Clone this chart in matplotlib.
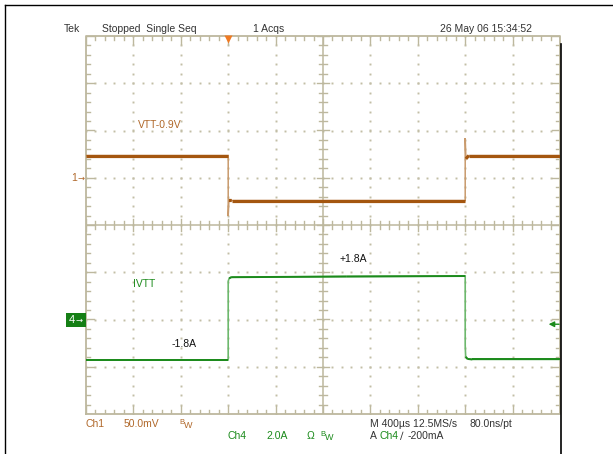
import matplotlib
matplotlib.use("Agg")
import matplotlib.pyplot as plt
import matplotlib.transforms as mtransforms
import numpy as np

# ---------------- data ----------------
# Ch1: VTT-0.9V, mV relative to channel ground marker
time_ms_ch1 = [-1.2, 0.0, 0.0, 0.006, 0.03, 2.0, 2.0, 2.006, 2.03, 2.8]
ch1_mV = [23.5, 23.5, -40.5, -24.0, -24.1, -24.1, 42.0, 20.0, 23.5, 23.5]

# Ch4: IVTT current, A
time_ms_ch4 = [-1.2, 0.0, 0.0, 0.008, 0.025, 1.0, 2.0, 2.0, 2.004, 2.02, 2.06, 2.8]
ch4_A = [-1.71, -1.71, 1.62, 1.74, 1.79, 1.82, 1.84, -1.10, -1.58, -1.67, -1.69, -1.69]

ch1_scale_mV = 50.0     # per division
ch4_scale_A = 2.0       # per division
ch1_offset_div = 1.0
ch4_offset_div = -2.0
time_per_div_ms = 0.4
trigger_pos_div = -2.0  # trigger point relative to screen centre
trigger_level_A = -0.2

header_texts = ["Tek", "Stopped  Single Seq", "1 Acqs", "26 May 06 15:34:52"]

# ---------------- figure ----------------
W, H = 613, 454
fig = plt.figure(figsize=(W / 100, H / 100), dpi=100)
fig.patch.set_facecolor("white")

FONT = ["Liberation Sans Narrow", "Liberation Sans", "DejaVu Sans"]
BROWN = "#A4560F"
BROWN_T = "#B0682A"
BROWN_L = "#C99A6C"
GREEN = "#1B8A1B"
GREEN_L = "#6DB86D"
GRAT = "#BDB89E"
DOT = "#C2BEA6"
TXT = "#333333"

def fx(px):
    return px / W

def fy(py):
    return 1 - py / H

gl, gr, gt, gb = 86, 560, 36, 414
rect = [fx(gl), fy(gb), (gr - gl) / W, (gb - gt) / H]

# graticule axes in division units
ax = fig.add_axes(rect)
ax.set_xlim(-5, 5)
ax.set_ylim(-4, 4)
ax.axis("off")
pxx = (gr - gl) / 10.0
pxy = (gb - gt) / 8.0
minor = np.arange(-5, 5.001, 0.2)
minor_y = np.arange(-4, 4.001, 0.2)

# dotted major grid
for xv in range(-4, 5):
    if xv == 0:
        continue
    ax.plot([xv] * len(minor_y), minor_y, ls="none", marker="s", ms=1.4, mec="none", mfc=DOT)
for yv in range(-3, 4):
    if yv == 0:
        continue
    ax.plot(minor, [yv] * len(minor), ls="none", marker="s", ms=1.4, mec="none", mfc=DOT)

# border
ax.plot([-5, 5, 5, -5, -5], [-4, -4, 4, 4, -4], color=GRAT, lw=1.3, clip_on=False)
# centre crosshair
ax.plot([0, 0], [-4, 4], color=GRAT, lw=1.1)
ax.plot([-5, 5], [0, 0], color=GRAT, lw=1.1)

tmin_x = 4 / pxx
tmaj_x = 8 / pxx
tmin_y = 4 / pxy
tmaj_y = 8 / pxy
for xv in minor:
    is_major = abs(xv - round(xv)) < 1e-6
    ly = (tmaj_y if is_major else tmin_y)
    ax.plot([xv, xv], [4, 4 - ly], color=GRAT, lw=1)
    ax.plot([xv, xv], [-4, -4 + ly], color=GRAT, lw=1)
    c = (ly - tmin_y / 2) if is_major else tmin_y
    ax.plot([xv, xv], [-c, c], color=GRAT, lw=1)
for yv in minor_y:
    is_major = abs(yv - round(yv)) < 1e-6
    lx = (tmaj_x if is_major else tmin_x)
    ax.plot([-5, -5 + lx], [yv, yv], color=GRAT, lw=1)
    ax.plot([5, 5 - lx], [yv, yv], color=GRAT, lw=1)
    c = (lx - tmin_x / 2) if is_major else tmin_x
    ax.plot([-c, c], [yv, yv], color=GRAT, lw=1)

# channel axes
t_left = (-5 - trigger_pos_div) * time_per_div_ms
t_right = (5 - trigger_pos_div) * time_per_div_ms


def draw_trace(axis, t, v, col, col_light, lw_flat, lw_edge):
    t = np.asarray(t, float)
    v = np.asarray(v, float)
    # thin, lighter edges (fast transitions)
    axis.plot(t, v, color=col_light, lw=lw_edge, solid_joinstyle="miter")
    # thick flat levels
    for i in range(len(t) - 1):
        if t[i + 1] - t[i] > 0.012:
            axis.plot(t[i:i + 2], v[i:i + 2], color=col, lw=lw_flat, solid_capstyle="butt")


ax1 = fig.add_axes(rect, facecolor="none")
ax1.set_xlim(t_left, t_right)
ax1.set_ylim((-4 - ch1_offset_div) * ch1_scale_mV, (4 - ch1_offset_div) * ch1_scale_mV)
ax1.axis("off")
draw_trace(ax1, time_ms_ch1, ch1_mV, BROWN, BROWN_L, 2.3, 1.1)

ax4 = fig.add_axes(rect, facecolor="none")
ax4.set_xlim(t_left, t_right)
ax4.set_ylim((-4 - ch4_offset_div) * ch4_scale_A, (4 - ch4_offset_div) * ch4_scale_A)
ax4.axis("off")
draw_trace(ax4, time_ms_ch4, ch4_A, GREEN, GREEN_L, 1.4, 1.2)

# trigger position marker (top)
trans = mtransforms.blended_transform_factory(ax4.transData, ax4.transAxes)
ax4.plot([0.0], [1 - 3 / (gb - gt)], marker="v", ms=6, color="#F07A22", mec="none",
         transform=trans, clip_on=False)

# trigger level arrow (right)
ax4.annotate("", xy=(0.976, trigger_level_A), xycoords=("axes fraction", "data"),
             xytext=(0.998, trigger_level_A), textcoords=("axes fraction", "data"),
             arrowprops=dict(arrowstyle="-|>", color=GREEN, lw=1.0, mutation_scale=8,
                             shrinkA=0, shrinkB=0),
             annotation_clip=False)

# channel ground markers
fig.text(fx(71), fy(178), "1", color=BROWN_T, fontsize=7.5, family=FONT, ha="left", va="center")
fig.text(fx(77), fy(178), "\u2192", color=BROWN_T, fontsize=6, family=["DejaVu Sans"], ha="left", va="center")
fig.patches.append(plt.Rectangle((fx(66), fy(327)), (86 - 66) / W, 14 / H, transform=fig.transFigure,
                                 facecolor="#157F15", edgecolor="none"))
fig.text(fx(69), fy(320), "4", color="white", fontsize=8, family=FONT, ha="left", va="center")
fig.text(fx(76), fy(320), "\u2192", color="white", fontsize=6, family=["DejaVu Sans"], ha="left", va="center")

# in-plot labels
fig.text(fx(138), fy(125), "VTT-0.9V", color=BROWN_T, fontsize=7.5, family=FONT, va="center")
fig.text(fx(133), fy(284), "IVTT", color=GREEN, fontsize=7.5, family=FONT, va="center")
fig.text(fx(172), fy(344), "-1.8A", color="#111111", fontsize=7.5, family=FONT, va="center")
fig.text(fx(340), fy(259), "+1.8A", color="#111111", fontsize=7.5, family=FONT, va="center")

# header
hx = [64, 102, 253, 440]
for x, s in zip(hx, header_texts):
    fig.text(fx(x), fy(29), s, color=TXT, fontsize=7.5, family=FONT, va="center")

# footer
fs = 7.5
fig.text(fx(86), fy(424), "Ch1", color=BROWN_T, fontsize=fs, family=FONT, va="center")
fig.text(fx(124), fy(424), "50.0mV", color=BROWN_T, fontsize=fs, family=FONT, va="center")
fig.text(fx(179), fy(422), "B", color=BROWN_T, fontsize=5.5, family=FONT, va="center")
fig.text(fx(184), fy(425), "W", color=BROWN_T, fontsize=6.5, family=FONT, va="center")
fig.text(fx(228), fy(436), "Ch4", color=GREEN, fontsize=fs, family=FONT, va="center")
fig.text(fx(266), fy(436), "2.0A", color=GREEN, fontsize=fs, family=FONT, va="center")
fig.text(fx(307), fy(436), "\u03a9", color=GREEN, fontsize=fs, family=FONT, va="center")
fig.text(fx(320), fy(434), "B", color=GREEN, fontsize=5.5, family=FONT, va="center")
fig.text(fx(325), fy(437), "W", color=GREEN, fontsize=6.5, family=FONT, va="center")
fig.text(fx(370), fy(424), "M 400\u00b5s 12.5MS/s", color=TXT, fontsize=fs, family=FONT, va="center")
fig.text(fx(470), fy(424), "80.0ns/pt", color=TXT, fontsize=fs, family=FONT, va="center")
fig.text(fx(370), fy(436), "A", color=TXT, fontsize=fs, family=FONT, va="center")
fig.text(fx(379), fy(436), "Ch4", color=GREEN, fontsize=fs, family=FONT, va="center")
fig.text(fx(400), fy(436), "\u2215", color=TXT, fontsize=fs, family=["DejaVu Sans"], va="center")
fig.text(fx(408), fy(436), "-200mA", color=TXT, fontsize=fs, family=FONT, va="center")

# outer black frame of the screenshot
fig.add_artist(plt.Line2D([fx(5), fx(5)], [fy(5), fy(454)], color="black", lw=1.0, transform=fig.transFigure))
fig.add_artist(plt.Line2D([fx(5), fx(613)], [fy(5), fy(5)], color="black", lw=1.0, transform=fig.transFigure))
fig.add_artist(plt.Line2D([fx(561), fx(561)], [fy(44), fy(454)], color="black", lw=1.2, transform=fig.transFigure))

fig.savefig("out.png", dpi=100, facecolor="white")
